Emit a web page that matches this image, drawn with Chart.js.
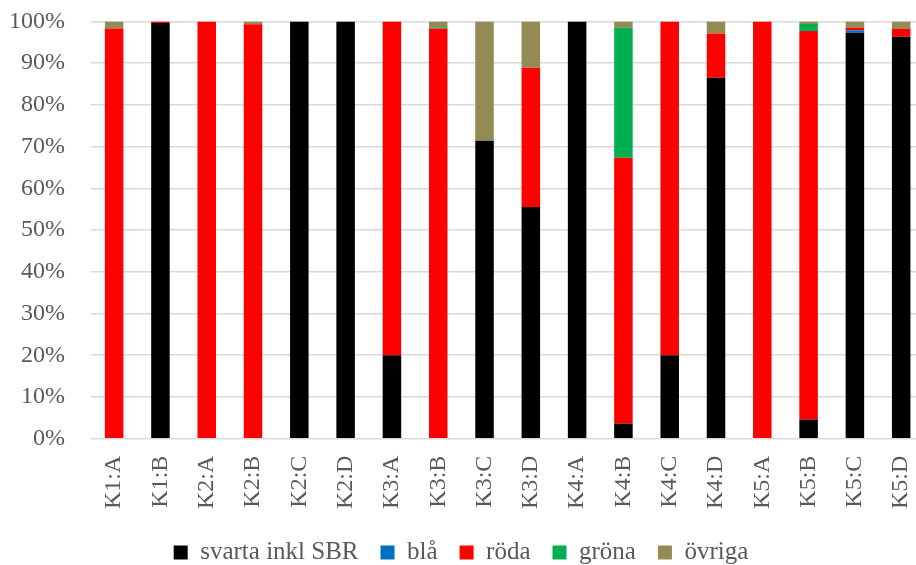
<!DOCTYPE html>
<html>
<head>
<meta charset="utf-8">
<script src="https://cdn.jsdelivr.net/npm/chart.js@4"></script>
<style>
  html, body { margin: 0; padding: 0; background: #fff; overflow: hidden; width: 916px; height: 565px; }
  #wrap { position: absolute; left: -17px; top: -19px; width: 956px; height: 594px; }
</style>
</head>
<body>
<div id="wrap"><canvas id="chart"></canvas></div>
<script>
// Kategorier och andelar (%)
const categories = ['K1:A', 'K1:B', 'K2:A', 'K2:B', 'K2:C', 'K2:D', 'K3:A', 'K3:B', 'K3:C',
                    'K3:D', 'K4:A', 'K4:B', 'K4:C', 'K4:D', 'K5:A', 'K5:B', 'K5:C', 'K5:D'];
const svarta = [0, 99.6, 0, 0, 100, 100, 20, 0, 71.4, 55.5, 100, 3.6, 20, 86.5, 0, 4.6, 97.3, 96.3];
const blaa   = [0, 0, 0, 0, 0, 0, 0, 0, 0, 0, 0, 0, 0, 0, 0, 0, 0.6, 0];
const roda   = [98.3, 0.4, 100, 99.3, 0, 0, 80, 98.3, 0, 33.4, 0, 63.7, 80, 10.6, 100, 93.1, 0.6, 1.9];
const grona  = [0, 0, 0, 0, 0, 0, 0, 0.3, 0, 0, 0, 31.2, 0, 0, 0, 1.7, 0, 0];
const ovriga = [1.7, 0, 0, 0.7, 0, 0, 0, 1.4, 28.6, 11.1, 0, 1.5, 0, 2.9, 0, 0.6, 1.5, 1.8];

const textColor = '#595959';
const fontFamily = '"Liberation Serif", "Times New Roman", serif';

function serie(label, data, color) {
  return {
    label: label,
    data: data,
    backgroundColor: color,
    borderWidth: 0,
    barPercentage: 0.4,
    categoryPercentage: 1.0
  };
}

const ctx = document.getElementById('chart').getContext('2d');
new Chart(ctx, {
  type: 'bar',
  data: {
    labels: categories,
    datasets: [
      serie('svarta inkl SBR', svarta, '#000000'),
      serie('blå', blaa, '#0070C0'),
      serie('röda', roda, '#FF0000'),
      serie('gröna', grona, '#00B050'),
      serie('övriga', ovriga, '#948A54')
    ]
  },
  options: {
    responsive: true,
    maintainAspectRatio: false,
    animation: false,
    layout: { padding: 0 },
    scales: {
      x: {
        stacked: true,
        grid: { display: false },
        border: { display: false },
        ticks: {
          color: textColor,
          font: { family: fontFamily, size: 24 },
          minRotation: 90,
          maxRotation: 90,
          autoSkip: false,
          padding: 9
        }
      },
      y: {
        stacked: true,
        min: 0,
        max: 100,
        border: { display: false },
        grid: { color: '#d9d9d9', lineWidth: 1.5, drawTicks: false },
        ticks: {
          stepSize: 10,
          color: textColor,
          font: { family: fontFamily, size: 24 },
          padding: 26,
          callback: v => v + '%'
        }
      }
    },
    plugins: {
      legend: {
        display: true,
        position: 'bottom',
        labels: {
          color: textColor,
          font: { family: fontFamily, size: 25 },
          boxWidth: 14,
          boxHeight: 14,
          padding: 22
        }
      },
      tooltip: { enabled: false }
    }
  }
});
</script>
</body>
</html>
